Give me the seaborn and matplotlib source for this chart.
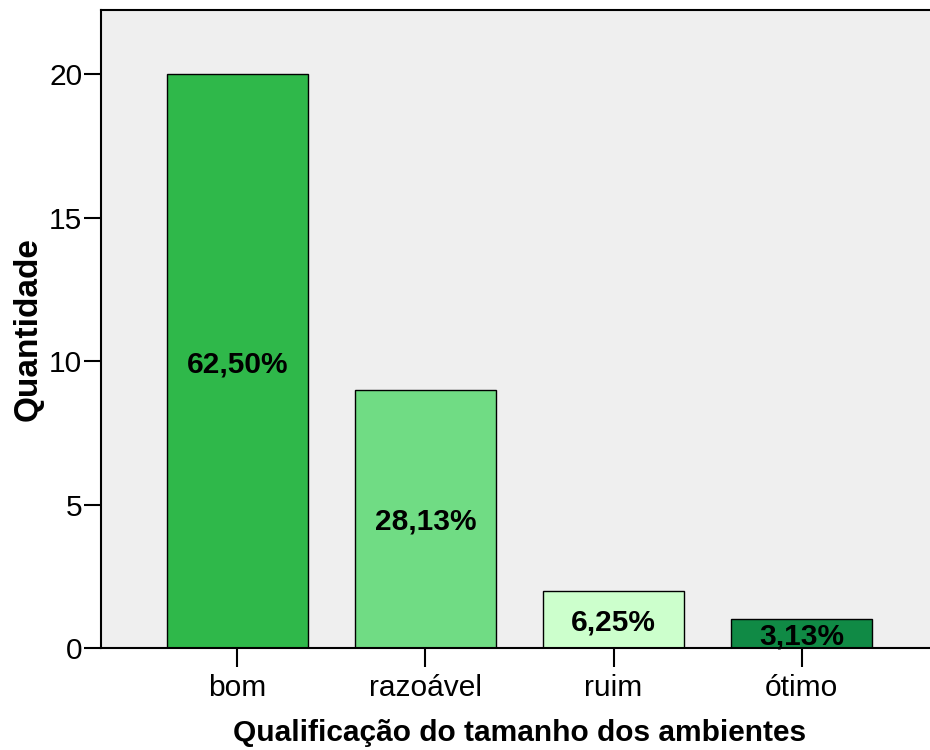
import matplotlib
matplotlib.use("Agg")
import matplotlib.pyplot as plt
import seaborn as sns
import pandas as pd

# dados do gráfico
categorias = ["bom", "razoável", "ruim", "ótimo"]
quantidades = [20, 9, 2, 1]
rotulos_pct = ["62,50%", "28,13%", "6,25%", "3,13%"]
cores = ["#2FB84A", "#70DC84", "#CCFFCC", "#108A45"]

sns.set_style("white")
plt.rcParams['font.family'] = ['Liberation Sans', 'DejaVu Sans']
plt.rcParams.update({"text.color": "black", "axes.labelcolor": "black",
                     "xtick.color": "black", "ytick.color": "black"})

df = pd.DataFrame({"cat": categorias, "n": quantidades})

fig = plt.figure(figsize=(9.3, 7.5), dpi=100)
# o eixo passa um pouco da borda direita, como no original
ax = fig.add_axes([101 / 930, 102 / 750, 837 / 930, 638 / 750])
ax.set_facecolor("#EFEFEF")

sns.barplot(data=df, x="cat", y="n", hue="cat", palette=cores, order=categorias,
            hue_order=categorias, width=0.75, edgecolor="black", linewidth=1.0,
            legend=False, saturation=1, ax=ax)

for i, (v, txt) in enumerate(zip(quantidades, rotulos_pct)):
    ax.text(i, v / 2, txt, ha="center", va="center_baseline", fontsize=21.5,
            fontweight="bold", color="black")

ax.set_xlim(-0.726, 3.726)
ax.set_ylim(0, 22.23)
ax.set_yticks([0, 5, 10, 15, 20])
ax.tick_params(axis="y", length=12.5, width=1.5, labelsize=21.5, left=True, pad=1)
ax.tick_params(axis="x", length=14, width=1.5, labelsize=21.5, bottom=True, pad=5)

for s in ["left", "top", "bottom"]:
    ax.spines[s].set_color("black")
    ax.spines[s].set_linewidth(1.5)
ax.spines["right"].set_visible(False)

ax.set_xlabel("Qualificação do tamanho dos ambientes", fontsize=21.5, fontweight="bold", labelpad=12)
ax.set_ylabel("Quantidade", fontsize=24, fontweight="bold", labelpad=4)

fig.savefig("out.png", dpi=100)
